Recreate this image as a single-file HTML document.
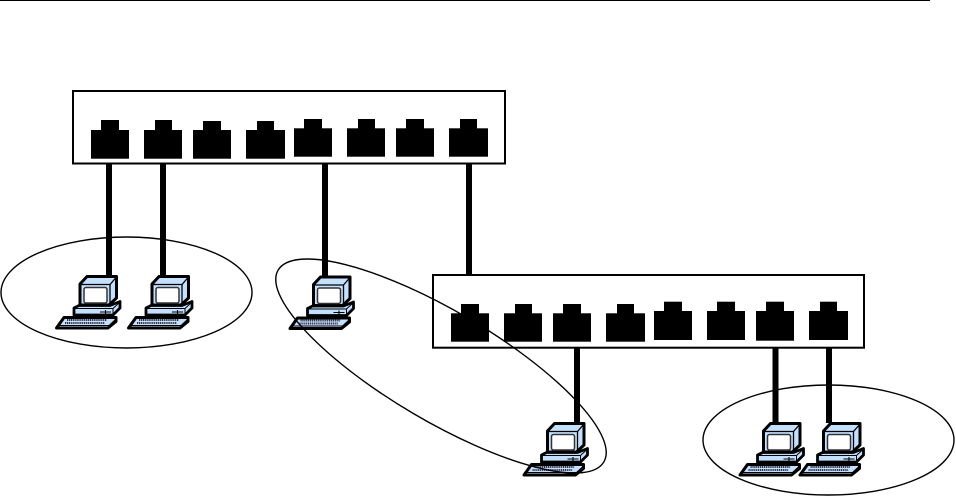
<!DOCTYPE html>
<html><head><meta charset="utf-8"><style>html,body{margin:0;padding:0;background:#fff}svg{display:block}</style></head><body>
<svg width="956" height="496" viewBox="0 0 956 496" xmlns="http://www.w3.org/2000/svg">
<defs>
<g id="pc">
<path d="M25 30 V9 L32 1.500 H61.500 V23 L54 30Z" fill="#c4e0ff" stroke="#000" stroke-width="3" stroke-linejoin="round"/>
<path d="M25 9.500 H55 L61.500 2 M55 9.500 V30" fill="none" stroke="#000" stroke-width="1.300"/>
<rect x="29" y="12.500" width="23" height="15.500" rx="2" fill="#fff" stroke="#333" stroke-width="1.500"/>
<path d="M19 33 L24 30.500 H55 L65 26.500 V33 L58 40 H19Z" fill="#c4e0ff" stroke="#000" stroke-width="2.800" stroke-linejoin="round"/>
<path d="M19 33.500 H58 L65 27 M58 33.500 V40" fill="none" stroke="#000" stroke-width="1"/>
<path d="M45 37 H56 M50.500 35 V39" stroke="#000" stroke-width="1.100"/>
<path d="M1.500 53 L9 42.500 H61 V46.500 L53 53Z" fill="#c4e0ff" stroke="#000" stroke-width="3" stroke-linejoin="round"/>
<path d="M1.500 50.500 H54 L61 44" fill="none" stroke="#000" stroke-width="1"/>
<path d="M12 45 H52 M10 48 H50" stroke="#334" stroke-width="2" stroke-dasharray="1.200 .7" fill="none"/>
</g>
</defs>

<rect x="0" y="0" width="930" height="1" fill="#000"/>

<ellipse cx="126.500" cy="292.500" rx="125.500" ry="55.500" fill="none" stroke="#000" stroke-width="1.400"/>
<ellipse cx="828.500" cy="440" rx="125.500" ry="55" fill="none" stroke="#000" stroke-width="1.400"/>

<g fill="#000">
<rect x="106" y="163" width="6" height="113"/>
<rect x="160" y="163" width="6" height="113"/>
<rect x="322" y="163" width="6" height="114"/>
<rect x="466" y="163" width="6" height="112"/>
<rect x="574" y="347" width="6" height="76"/>
<rect x="772.500" y="347" width="6" height="76"/>
<rect x="826" y="347" width="6" height="76"/>
</g>

<rect x="73" y="91" width="432" height="72.500" fill="#fff" stroke="#000" stroke-width="2"/>
<rect x="433" y="275" width="431" height="72.700" fill="#fff" stroke="#000" stroke-width="2"/>

<g fill="#000">
<rect x="91" y="130" width="38" height="28.700"/><rect x="101" y="120" width="18" height="11"/>
<rect x="144" y="130" width="38" height="28.700"/><rect x="155" y="120" width="17" height="11"/>
<rect x="193" y="130" width="38" height="28.700"/><rect x="203" y="121" width="18" height="10"/>
<rect x="246" y="130" width="39" height="28.700"/><rect x="257" y="121" width="17" height="10"/>
<rect x="294" y="128.300" width="38" height="28.400"/><rect x="304" y="119" width="18" height="10"/>
<rect x="347" y="128.300" width="38" height="28.400"/><rect x="358" y="119" width="17" height="10"/>
<rect x="396" y="128.300" width="38" height="28.400"/><rect x="406" y="119" width="18" height="10"/>
<rect x="449" y="128.300" width="39" height="28.400"/><rect x="460" y="119" width="17" height="10"/>

<rect x="451" y="313.300" width="38" height="28.400"/><rect x="461" y="304" width="18" height="10"/>
<rect x="504" y="313.300" width="38" height="28.400"/><rect x="515" y="304" width="17" height="10"/>
<rect x="553" y="313.300" width="38" height="28.400"/><rect x="563" y="304" width="18" height="10"/>
<rect x="606" y="313.300" width="39" height="28.400"/><rect x="617" y="304" width="17" height="10"/>
<rect x="654" y="311" width="38" height="29"/><rect x="664" y="301.700" width="18" height="10"/>
<rect x="707" y="311" width="38" height="29"/><rect x="717" y="301.700" width="18" height="10"/>
<rect x="756" y="311" width="38" height="29.700"/><rect x="766" y="301.700" width="18" height="10"/>
<rect x="809" y="311" width="39" height="29"/><rect x="820" y="301.700" width="17" height="10"/>
</g>

<use href="#pc" x="55" y="275"/>
<use href="#pc" x="127" y="275"/>
<use href="#pc" x="288.500" y="275.500"/>
<use href="#pc" x="522.500" y="422"/>
<use href="#pc" x="738.500" y="422"/>
<use href="#pc" x="798.500" y="422"/>

<ellipse cx="441" cy="366" rx="189" ry="55" transform="rotate(30.500 441 366)" fill="none" stroke="#000" stroke-width="1.400"/>
</svg>
</body></html>
